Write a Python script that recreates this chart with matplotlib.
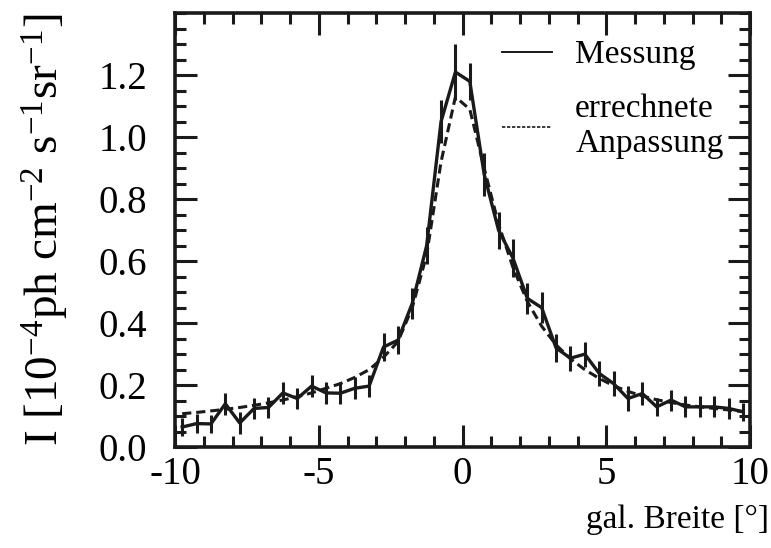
import matplotlib

matplotlib.use("Agg")

import matplotlib.pyplot as plt
from matplotlib.lines import Line2D
from matplotlib.ticker import MultipleLocator

# ---------------------------------------------------------------- data
# gal. latitude bin centres [deg]
breite = [-9.75, -9.25, -8.75, -8.25, -7.75, -7.25, -6.75, -6.25, -5.75, -5.25,
          -4.75, -4.25, -3.75, -3.25, -2.75, -2.25, -1.75, -1.25, -0.75, -0.25,
          0.25, 0.75, 1.25, 1.75, 2.25, 2.75, 3.25, 3.75, 4.25, 4.75,
          5.25, 5.75, 6.25, 6.75, 7.25, 7.75, 8.25, 8.75, 9.25, 9.75]

# measured intensity [1e-4 ph cm^-2 s^-1 sr^-1]
messung = [0.065, 0.076, 0.075, 0.140, 0.078, 0.125, 0.128, 0.175, 0.157, 0.197,
           0.175, 0.174, 0.190, 0.197, 0.323, 0.345, 0.464, 0.650, 1.050, 1.210,
           1.180, 0.880, 0.700, 0.610, 0.480, 0.450, 0.320, 0.287, 0.300, 0.238,
           0.205, 0.157, 0.173, 0.130, 0.152, 0.130, 0.130, 0.130, 0.125, 0.114]

fehler = [0.030, 0.030, 0.030, 0.036, 0.036, 0.035, 0.035, 0.036, 0.035, 0.036,
          0.036, 0.036, 0.036, 0.036, 0.045, 0.045, 0.050, 0.060, 0.070, 0.090,
          0.060, 0.070, 0.060, 0.060, 0.050, 0.050, 0.045, 0.040, 0.040, 0.040,
          0.040, 0.040, 0.038, 0.030, 0.034, 0.034, 0.034, 0.034, 0.034, 0.030]

# fitted model
anpassung = [0.108, 0.112, 0.117, 0.122, 0.128, 0.135, 0.143, 0.152, 0.163, 0.175,
             0.190, 0.205, 0.225, 0.250, 0.290, 0.340, 0.450, 0.620, 0.920, 1.130,
             1.090, 0.900, 0.720, 0.580, 0.470, 0.390, 0.330, 0.285, 0.250, 0.222,
             0.198, 0.180, 0.165, 0.153, 0.144, 0.136, 0.130, 0.125, 0.120, 0.115]

y_ticks = [0.0, 0.2, 0.4, 0.6, 0.8, 1.0, 1.2]
y_labels = ["0.0", "0.2", "0.4", "0.6", "0.8", "1.0", "1.2"]

# ---------------------------------------------------------------- style
plt.rcParams["font.family"] = ["Liberation Serif", "DejaVu Serif"]
plt.rcParams["mathtext.fontset"] = "custom"
plt.rcParams["mathtext.rm"] = "Liberation Serif"
plt.rcParams["mathtext.it"] = "Liberation Serif:italic"
plt.rcParams["axes.unicode_minus"] = False

INK = "#1a1a1a"
DASH = (0, (3, 1.6))

fig = plt.figure(figsize=(7.71, 5.48), dpi=100)
ax = fig.add_axes([0.227, 0.184, 0.746, 0.792])

ax.errorbar(breite, messung, yerr=fehler, color=INK, lw=2.4,
            elinewidth=2.2, capsize=0)
ax.plot(breite, anpassung, color=INK, lw=2.2, ls=DASH)

ax.set_xlim(-10, 10)
ax.set_ylim(0, 1.4)
ax.set_yticks(y_ticks)
ax.set_yticklabels(y_labels)
ax.xaxis.set_major_locator(MultipleLocator(5))
ax.xaxis.set_minor_locator(MultipleLocator(1))
ax.yaxis.set_minor_locator(MultipleLocator(0.05))

ax.tick_params(which="both", direction="in", top=True, right=True,
               width=2.2, color=INK, labelsize=28)
ax.tick_params(axis="x", pad=6)
ax.tick_params(axis="y", pad=20)
ax.tick_params(which="major", length=16)
ax.tick_params(which="minor", length=8)
for sp in ax.spines.values():
    sp.set_linewidth(2.6)
    sp.set_color(INK)

fig.text(0.997, 0.052, "gal. Breite [°]", fontsize=24, ha="right", va="center")
ax.set_ylabel(r"I [10$^{-4}$ph cm$^{-2}$ s$^{-1}$sr$^{-1}$]", fontsize=34,
              labelpad=20)

handles = [Line2D([], [], color=INK, lw=1.4),
           Line2D([], [], color=INK, lw=1.2, ls=(0, (2, 1)))]
ax.legend(handles, ["Messung", "errechnete\nAnpassung"], loc="upper right",
          frameon=False, fontsize=24, handlelength=1.5, handletextpad=0.7,
          labelspacing=0.7, borderaxespad=0.4)

fig.savefig("out.png", dpi=100)
